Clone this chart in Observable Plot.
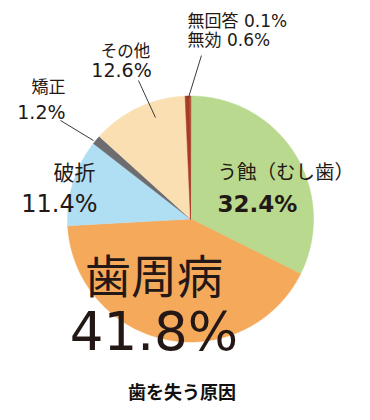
<!DOCTYPE html>
<html><head><meta charset="utf-8">
<script src="https://cdn.jsdelivr.net/npm/d3@7"></script>
<script src="https://cdn.jsdelivr.net/npm/@observablehq/plot@0.6"></script>
<style>
body{margin:0;background:#fff;font-family:"Noto Sans CJK JP",sans-serif;}
#title{width:370px;text-align:center;font-size:18px;font-weight:700;color:#111;margin-top:10px;line-height:22px;padding-right:6px;box-sizing:border-box;}
</style></head>
<body>
<div id="chart"></div>
<div id="title">歯を失う原因</div>
<script>
// ---- data (clockwise from 12 o'clock) ----
const categories = ["う蝕（むし歯）", "歯周病", "破折", "矯正", "その他", "無効", "無回答"];
const shares = [32.4, 41.8, 11.4, 1.2, 12.6, 0.6, 0.1];
const sliceColors = ["#b9d98f", "#f4a95b", "#b0def2", "#6d6d6f", "#f9dfb2", "#a83b26", "#a83b26"];

// label texts
const labelTexts = ["無回答 0.1%", "無効 0.6%", "その他", "12.6%", "矯正", "1.2%", "破折", "11.4%", "う蝕（むし歯）", "32.4%", "歯周病", "41.8%"];

// ---- layout (pie-radius units, styles) ----
const NUM = "'DejaVu Sans', 'Noto Sans CJK JP', sans-serif";
const JP = "'Noto Sans CJK JP', sans-serif";
const labelLayout = [
  {ux: -0.024, uy: 1.606, size: 17, anchor: "start", weight: 400, font: NUM},
  {ux: -0.024, uy: 1.447, size: 17, anchor: "start", weight: 400, font: NUM},
  {ux: -0.528, uy: 1.362, size: 16.5, anchor: "middle", weight: 400, font: JP},
  {ux: -0.561, uy: 1.200, size: 19, anchor: "middle", weight: 400, font: NUM},
  {ux: -1.016, uy: 1.065, size: 17, anchor: "end", weight: 400, font: JP},
  {ux: -1.016, uy: 0.862, size: 19, anchor: "end", weight: 400, font: NUM},
  {ux: -0.772, uy: 0.370, size: 21, anchor: "end", weight: 400, font: JP},
  {ux: -0.756, uy: 0.122, size: 24, anchor: "end", weight: 400, font: NUM},
  {ux: 0.220, uy: 0.378, size: 19.5, anchor: "start", weight: 400, font: JP},
  {ux: 0.220, uy: 0.118, size: 23, anchor: "start", weight: 700, font: NUM},
  {ux: -0.297, uy: -0.478, size: 46, anchor: "middle", weight: 400, font: JP},
  {ux: -0.297, uy: -0.928, size: 53, anchor: "middle", weight: 400, font: NUM}
];
const leaderLayout = [
  {key: "矯正", x1: -0.789, y1: 0.638, x2: -1.057, y2: 0.801},
  {key: "その他", x1: -0.285, y1: 0.825, x2: -0.423, y2: 1.126},
  {key: "無効", x1: -0.016, y1: 0.988, x2: 0.089, y2: 1.329}
];

// ---- build slice polygons from the shares ----
const total = d3.sum(shares);
const pts = [];
let acc = 0;
categories.forEach((c, i) => {
  const a0 = acc / total * 2 * Math.PI;
  acc += shares[i];
  const a1 = acc / total * 2 * Math.PI;
  pts.push({key: c, x: 0, y: 0});
  const n = Math.max(2, Math.ceil((a1 - a0) / (Math.PI / 360)));
  for (let k = 0; k <= n; k++) {
    const a = a0 + (a1 - a0) * k / n;
    pts.push({key: c, x: Math.sin(a), y: Math.cos(a)});
  }
});

const labels = labelTexts.map((t, i) => ({text: t, ...labelLayout[i]}));

const chart = Plot.plot({
  width: 370,
  height: 370,
  marginLeft: 67,
  marginRight: 57,
  marginTop: 95.5,
  marginBottom: 28.5,
  x: {domain: [-1, 1], axis: null},
  y: {domain: [-1, 1], axis: null},
  color: {domain: categories, range: sliceColors},
  style: {fontFamily: JP, background: "#fff", overflow: "visible"},
  marks: [
    Plot.line(pts, {x: "x", y: "y", z: "key", fill: "key", stroke: "key", strokeWidth: 0.5, curve: "linear-closed"}),
    Plot.link(leaderLayout, {x1: "x1", y1: "y1", x2: "x2", y2: "y2", stroke: "#3a3a3a", strokeWidth: 1}),
    ...labels.map(l => Plot.text([l], {
      x: "ux", y: "uy", text: "text",
      fontSize: l.size, textAnchor: l.anchor, fontWeight: l.weight, fontFamily: l.font,
      fill: "#231815"
    }))
  ]
});
document.getElementById("chart").appendChild(chart);
</script>
</body></html>
